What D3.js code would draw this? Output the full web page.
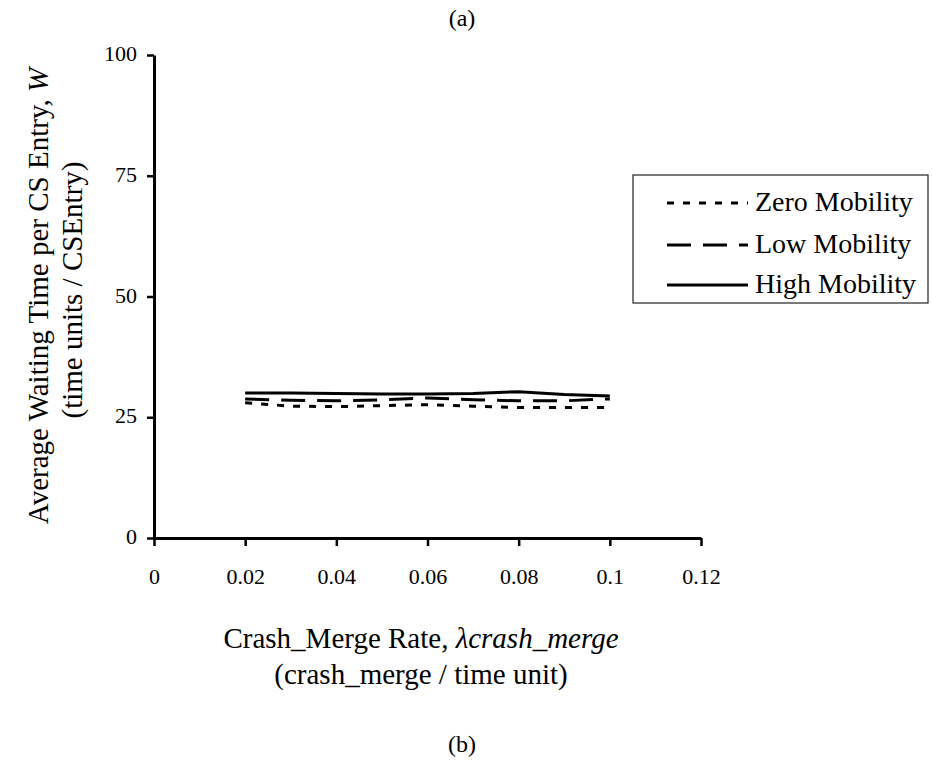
<!DOCTYPE html>
<html>
<head>
<meta charset="utf-8">
<script src="https://cdn.jsdelivr.net/npm/d3@7"></script>
<style>
  html, body { margin: 0; padding: 0; background: #fff; }
</style>
</head>
<body>
<svg id="chart" width="932" height="766"></svg>
<script>
// Crash/merge rate on the x axis
const rates = [0.02, 0.03, 0.04, 0.05, 0.06, 0.07, 0.08, 0.09, 0.1];
// Average waiting time per CS entry for each mobility level
const zeroMobility = [28.0, 27.3, 27.2, 27.4, 27.6, 27.3, 27.0, 27.0, 27.0];
const lowMobility  = [28.8, 28.5, 28.4, 28.6, 29.0, 28.6, 28.4, 28.4, 28.8];
const highMobility = [30.0, 30.0, 29.9, 29.8, 29.8, 29.9, 30.3, 29.7, 29.4];
const seriesNames = ["Zero Mobility", "Low Mobility", "High Mobility"];
const xTicks = [0, 0.02, 0.04, 0.06, 0.08, 0.1, 0.12];
const yTicks = [0, 25, 50, 75, 100];

const SERIF = "Liberation Serif";
const svg = d3.select("#chart");
const x = d3.scaleLinear().domain([0, 0.12]).range([154, 701]);
const y = d3.scaleLinear().domain([0, 100]).range([538, 55]);

const styles = [
  { dash: "7,9", width: 3 },
  { dash: "24,12", width: 3 },
  { dash: null, width: 3 }
];

// Axes
const xAxis = svg.append("g").attr("transform", `translate(0,${y(0)})`)
  .call(d3.axisBottom(x).tickValues(xTicks).tickFormat(d => d3.format("~g")(d)).tickSize(8).tickSizeOuter(0).tickPadding(22));
xAxis.select(".domain").attr("stroke", "#000").attr("stroke-width", 3);
xAxis.selectAll(".tick line").attr("stroke", "#000").attr("stroke-width", 2.5);
xAxis.selectAll(".tick text").attr("font-family", SERIF).attr("font-size", 22).attr("fill", "#000");

const yAxis = svg.append("g").attr("transform", `translate(${x(0)},0)`)
  .call(d3.axisLeft(y).tickValues(yTicks).tickSize(7).tickSizeOuter(0).tickPadding(10));
yAxis.select(".domain").attr("stroke", "#000").attr("stroke-width", 3);
yAxis.selectAll(".tick line").attr("stroke", "#000").attr("stroke-width", 2.5);
yAxis.selectAll(".tick text").attr("font-family", SERIF).attr("font-size", 22).attr("fill", "#000")
  .attr("dy", "0.25em");

// Series lines
const line = d3.line().x(d => x(d[0])).y(d => y(d[1]));
[zeroMobility, lowMobility, highMobility].forEach((vals, i) => {
  svg.append("path")
    .datum(rates.map((r, j) => [r, vals[j]]))
    .attr("d", line)
    .attr("fill", "none")
    .attr("stroke", "#000")
    .attr("stroke-width", styles[i].width)
    .attr("stroke-dasharray", styles[i].dash);
});

// Legend
const lg = svg.append("g");
lg.append("rect").attr("x", 633).attr("y", 175).attr("width", 295).attr("height", 128)
  .attr("fill", "#fff").attr("stroke", "#222").attr("stroke-width", 1.2);
const ly = [203, 245, 285];
seriesNames.forEach((name, i) => {
  lg.append("line").attr("x1", 667).attr("x2", 748).attr("y1", ly[i]).attr("y2", ly[i])
    .attr("stroke", "#000").attr("stroke-width", 3).attr("stroke-dasharray", styles[i].dash);
  lg.append("text").attr("x", 755).attr("y", ly[i] + 8)
    .attr("font-family", SERIF).attr("font-size", 28).text(name);
});

// Titles and axis labels
svg.append("text").attr("x", 462).attr("y", 26).attr("text-anchor", "middle")
  .attr("font-family", SERIF).attr("font-size", 24).text("(a)");
svg.append("text").attr("x", 462).attr("y", 752).attr("text-anchor", "middle")
  .attr("font-family", SERIF).attr("font-size", 24).text("(b)");

const yl = svg.append("text").attr("transform", "translate(48,296) rotate(-90)").attr("text-anchor", "middle")
  .attr("font-family", SERIF).attr("font-size", 29);
yl.append("tspan").text("Average Waiting Time per CS Entry, ");
yl.append("tspan").attr("font-style", "italic").text("W");
svg.append("text").attr("transform", "translate(82,290) rotate(-90)").attr("text-anchor", "middle")
  .attr("font-family", SERIF).attr("font-size", 29).text("(time units / CSEntry)");

const xl = svg.append("text").attr("x", 421).attr("y", 648).attr("text-anchor", "middle")
  .attr("font-family", SERIF).attr("font-size", 29);
xl.append("tspan").text("Crash_Merge Rate, ");
xl.append("tspan").attr("font-style", "italic").text("λcrash_merge");
svg.append("text").attr("x", 421).attr("y", 684).attr("text-anchor", "middle")
  .attr("font-family", SERIF).attr("font-size", 29).text("(crash_merge / time unit)");
</script>
</body>
</html>
